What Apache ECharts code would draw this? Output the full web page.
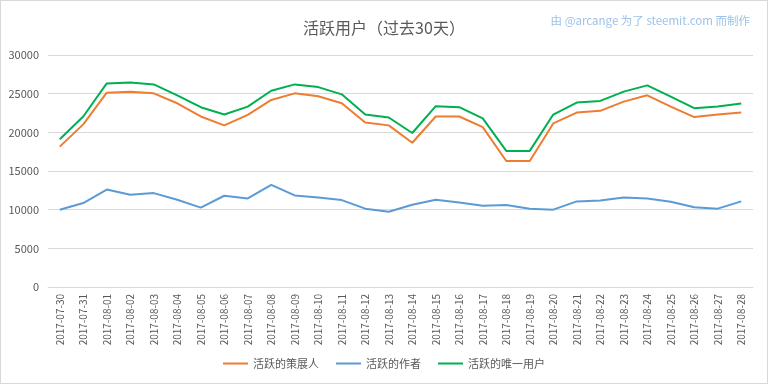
<!DOCTYPE html>
<html><head><meta charset="utf-8">
<script src="https://cdn.jsdelivr.net/npm/echarts@6/dist/echarts.min.js"></script>
<style>html,body{margin:0;padding:0;background:#fff}#c{width:768px;height:384px;box-sizing:border-box;border:1px solid #d9d9d9}</style>
</head><body><div id="c"></div>
<script>
const categories = ["2017-07-30","2017-07-31","2017-08-01","2017-08-02","2017-08-03","2017-08-04","2017-08-05","2017-08-06","2017-08-07","2017-08-08","2017-08-09","2017-08-10","2017-08-11","2017-08-12","2017-08-13","2017-08-14","2017-08-15","2017-08-16","2017-08-17","2017-08-18","2017-08-19","2017-08-20","2017-08-21","2017-08-22","2017-08-23","2017-08-24","2017-08-25","2017-08-26","2017-08-27","2017-08-28"];
const curators = [18150,21030,25130,25260,25040,23760,22050,20900,22250,24190,25040,24660,23760,21280,20900,18650,22050,22050,20680,16300,16300,21150,22560,22780,23970,24790,23330,21970,22300,22560];
const authors = [10000,10860,12600,11920,12140,11280,10260,11800,11450,13200,11840,11580,11240,10130,9740,10640,11280,10940,10510,10600,10130,10000,11070,11200,11580,11450,11030,10300,10130,11070];
const uniqueUsers = [19100,22050,26330,26450,26200,24780,23250,22300,23330,25380,26200,25850,24910,22300,21920,19910,23380,23250,21800,17600,17600,22300,23850,24060,25260,26070,24620,23120,23330,23720];
const seriesNames = ["活跃的策展人","活跃的作者","活跃的唯一用户"];
const yTicks = {min:0, max:30000, interval:5000};

const font = "'Noto Sans CJK SC', 'DejaVu Sans', sans-serif";
const chart = echarts.init(document.getElementById('c'));
chart.setOption({
  animation:false,
  textStyle:{fontFamily:font},
  title:[{text:"活跃用户（过去30天）", left:'center', top:14, textStyle:{fontSize:16, fontWeight:'normal', color:'#595959', fontFamily:font}},
         {text:"由 @arcange 为了 steemit.com 而制作", right:12, top:9, textStyle:{fontSize:11.5, fontWeight:'normal', color:'#9DC3E6', fontFamily:font}}],
  legend:{bottom:9, left:'center', itemWidth:25, itemHeight:10, itemGap:17, icon:'path://M0,0 L25,0 L25,2 L0,2 Z',
    textStyle:{fontSize:11, color:'#595959'}, data:seriesNames},
  grid:{left:47, right:14, top:54, bottom:96, containLabel:false},
  xAxis:{type:'category', data:categories, boundaryGap:true,
    axisLine:{show:true, lineStyle:{color:'#d9d9d9'}}, axisTick:{show:false},
    axisLabel:{rotate:90, fontSize:10, color:'#595959', margin:7, interval:0}},
  yAxis:{type:'value', min:yTicks.min, max:yTicks.max, interval:yTicks.interval,
    axisLine:{show:false}, axisTick:{show:false},
    axisLabel:{fontSize:11, color:'#595959', margin:9, formatter:v=>String(v)},
    splitLine:{lineStyle:{color:'#d9d9d9', width:1}}},
  series:[
    {name:seriesNames[0], type:'line', data:curators, symbol:'none', lineStyle:{width:2, color:'#ED7D31'}, itemStyle:{color:'#ED7D31'}},
    {name:seriesNames[1], type:'line', data:authors, symbol:'none', lineStyle:{width:2, color:'#5B9BD5'}, itemStyle:{color:'#5B9BD5'}},
    {name:seriesNames[2], type:'line', data:uniqueUsers, symbol:'none', lineStyle:{width:2, color:'#00B050'}, itemStyle:{color:'#00B050'}}
  ]
});
</script></body></html>
